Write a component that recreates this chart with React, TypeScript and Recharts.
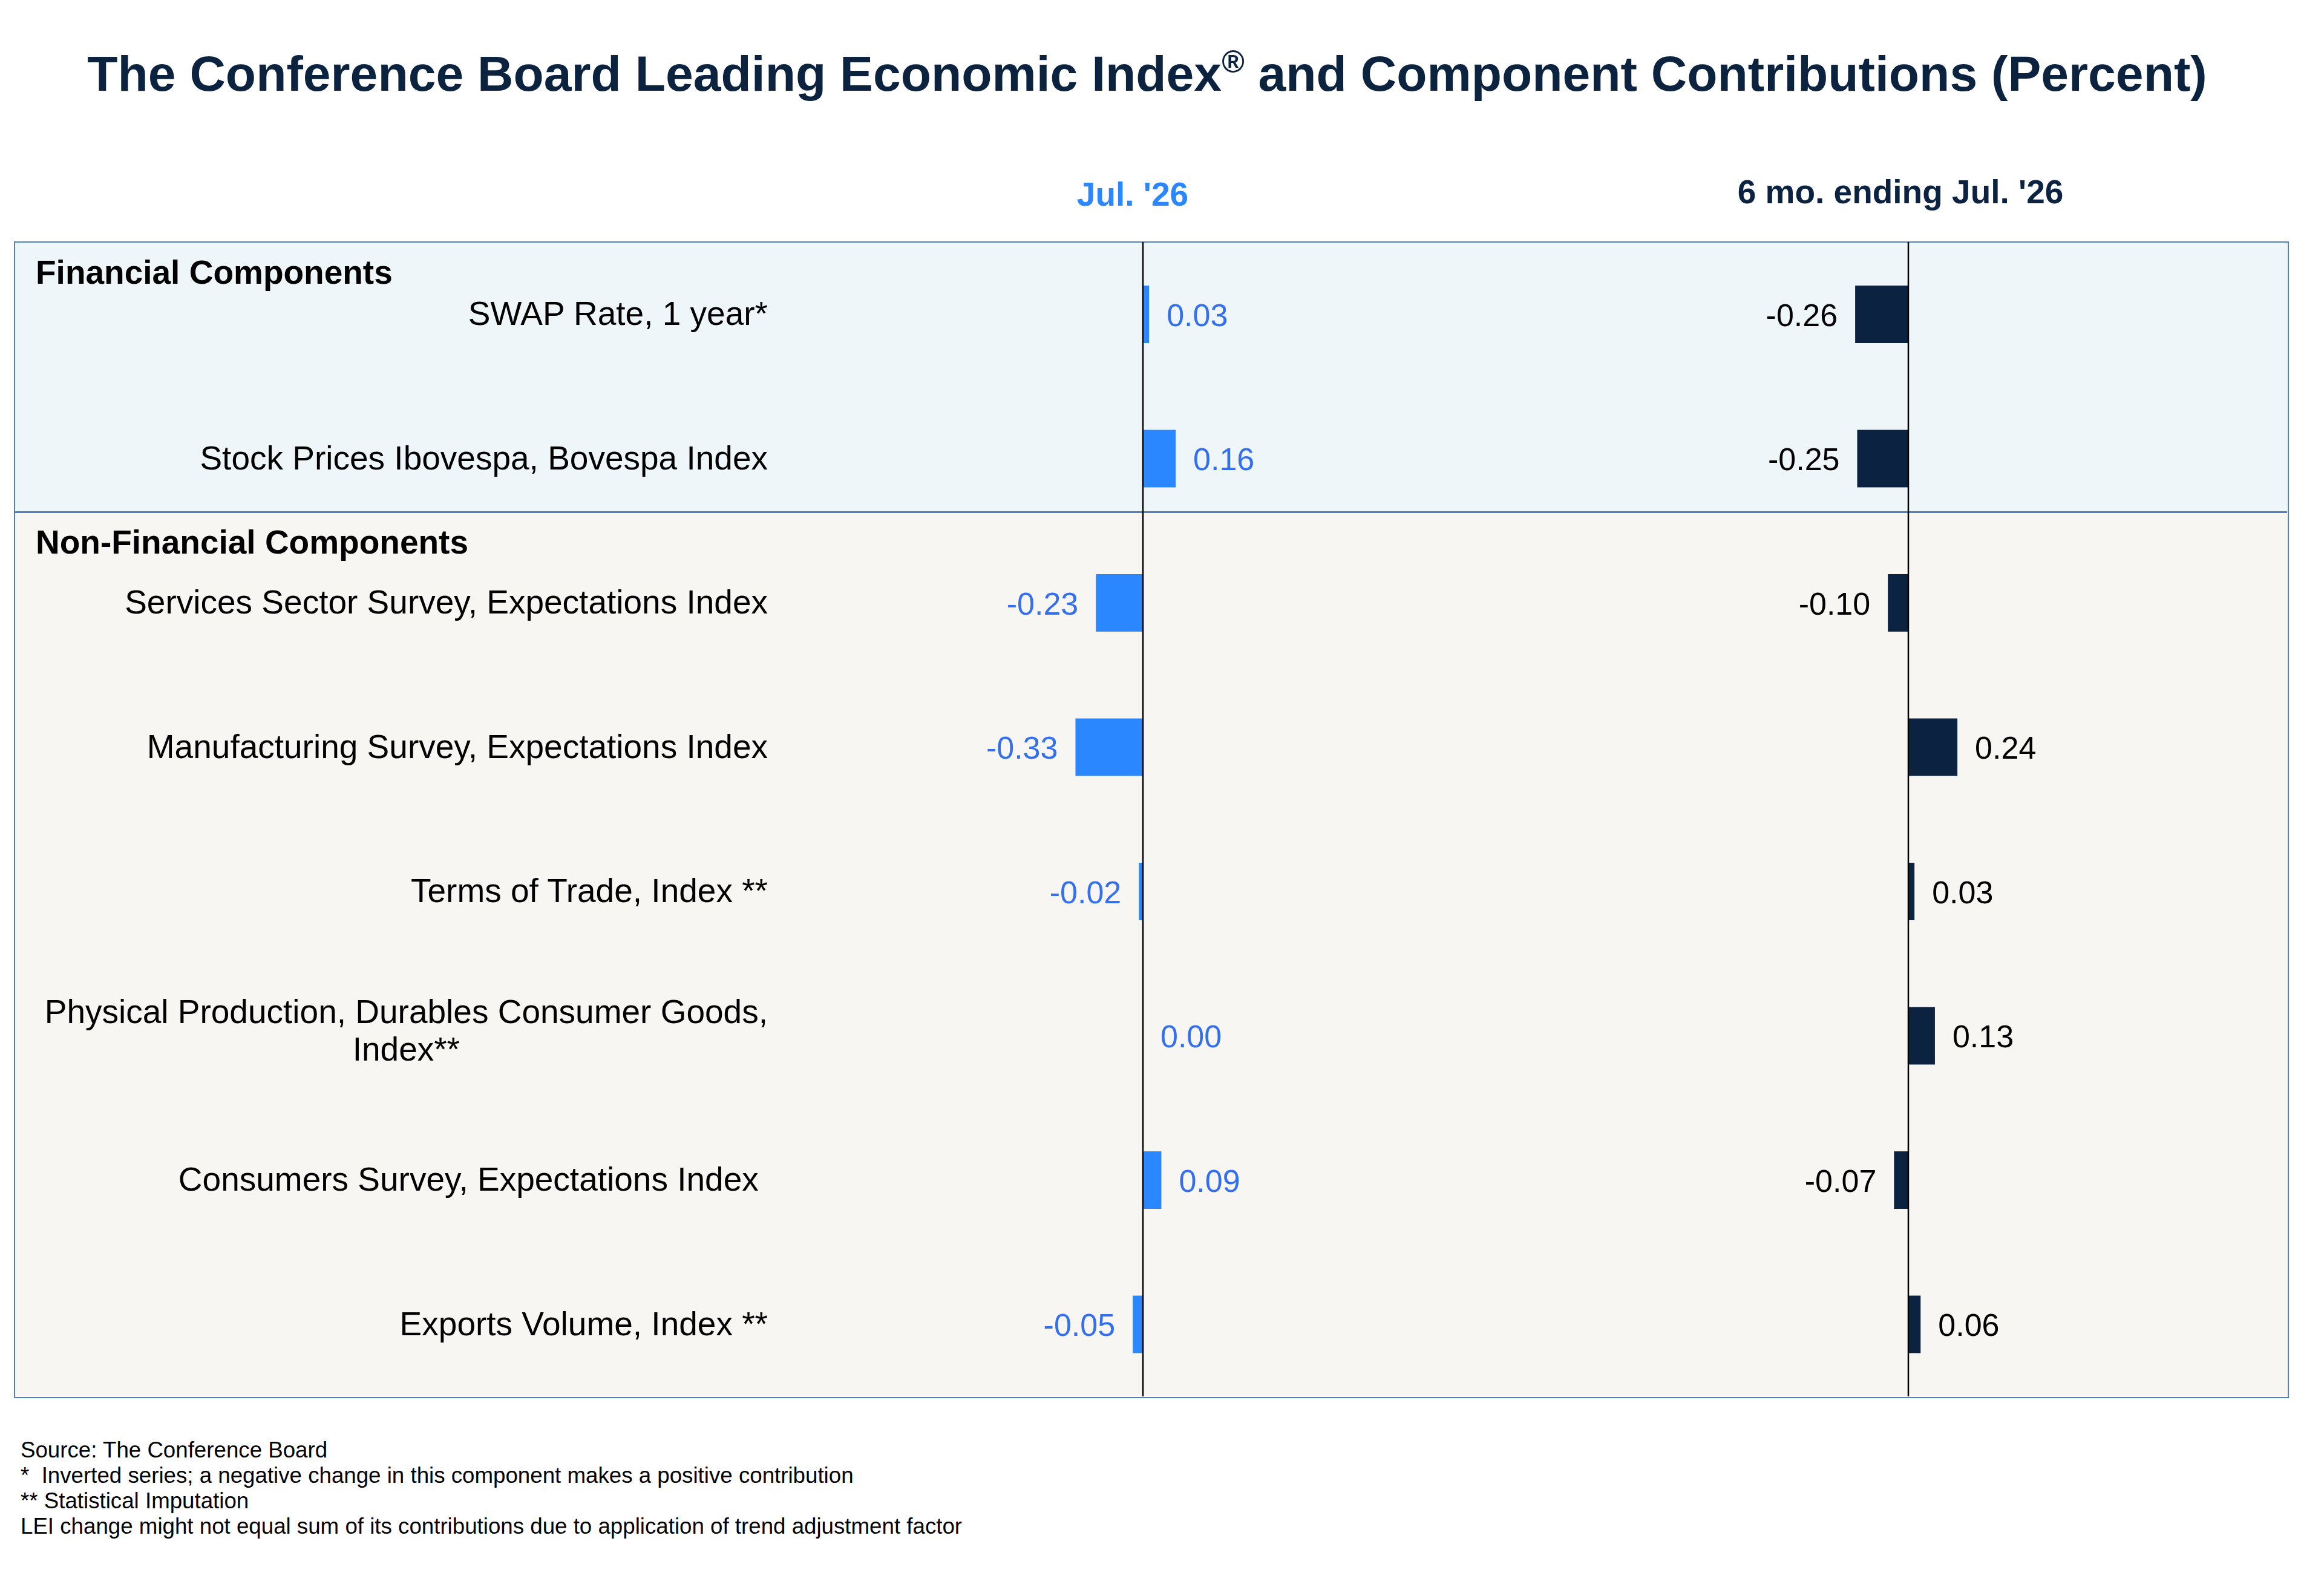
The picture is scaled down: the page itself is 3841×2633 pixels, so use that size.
import React from 'react'
import { BarChart, Bar, XAxis, YAxis, LabelList, ReferenceLine } from 'recharts'

// component names, top to bottom
const components = [
  'SWAP Rate, 1 year*',
  'Stock Prices Ibovespa, Bovespa Index',
  'Services Sector Survey, Expectations Index',
  'Manufacturing Survey, Expectations Index',
  'Terms of Trade, Index **',
  'Physical Production, Durables Consumer Goods,\nIndex**',
  'Consumers Survey, Expectations Index ',
  'Exports Volume, Index **',
]
// contribution in Jul. '26
const julValues = [0.03, 0.16, -0.23, -0.33, -0.02, 0.0, 0.09, -0.05]
// contribution over the 6 months ending Jul. '26
const sixMonthValues = [-0.26, -0.25, -0.1, 0.24, 0.03, 0.13, -0.07, 0.06]

const sections = ['Financial Components', 'Non-Financial Components']
const periodHeaders = ["Jul. '26", "6 mo. ending Jul. '26"]
const footnotes = [
  'Source: The Conference Board',
  '*  Inverted series; a negative change in this component makes a positive contribution',
  '** Statistical Imputation',
  'LEI change might not equal sum of its contributions due to application of trend adjustment factor',
]

const rows = components.map((name, i) => ({ name, jul: julValues[i], six: sixMonthValues[i] }))

const W = 3841
const H = 2633
const FONT = '"Liberation Sans", Arial, Helvetica, sans-serif'
const BLUE = '#2B87FF'
const BLUE_TEXT = '#3470EE'
const NAVY = '#0B2341'
const BORDER = '#4F81BD'

// layout
const BOX_L = 24
const BOX_R = 3780
const BOX_T = 400
const BOX_B = 2308
const DIVIDER = 846
const LABEL_R = 1269
const PLOT_L = 1284
const ZERO_A = 1889
const ZERO_B = 3154
const PX_PER_UNIT = 338

const domainA = [(PLOT_L - ZERO_A) / PX_PER_UNIT, (BOX_R - ZERO_A) / PX_PER_UNIT]
const domainB = [(PLOT_L - ZERO_B) / PX_PER_UNIT, (BOX_R - ZERO_B) / PX_PER_UNIT]

let measureCtx: CanvasRenderingContext2D | null = null
function textWidth(s: string, size: number) {
  if (!measureCtx) measureCtx = document.createElement('canvas').getContext('2d')
  if (!measureCtx) return s.length * size * 0.5
  measureCtx.font = `${size}px "Liberation Sans"`
  return measureCtx.measureText(s).width
}

const LabelTick = ({ y, payload }: any) => {
  const lines = String(payload.value).split('\n')
  if (lines.length === 1) {
    return (
      <text x={LABEL_R} y={y + 18} textAnchor="end" fontSize={55} fontFamily={FONT} fill="#000" style={{ whiteSpace: 'pre' }}>
        {lines[0]}
      </text>
    )
  }
  const mid = LABEL_R - textWidth(lines[0], 55) / 2
  return (
    <g>
      <text x={mid} y={y - 21} textAnchor="middle" fontSize={55} fontFamily={FONT} fill="#000">{lines[0]}</text>
      <text x={mid} y={y + 41} textAnchor="middle" fontSize={55} fontFamily={FONT} fill="#000">{lines[1]}</text>
    </g>
  )
}

const valueLabel = (color: string) => (p: any) => {
  const v = Number(p.value)
  const x0 = Number(p.x)
  const w = Number(p.width) || 0
  const left = Math.min(x0, x0 + w)
  const right = Math.max(x0, x0 + w)
  const cy = Number(p.y) + Number(p.height) / 2
  return (
    <text
      x={v < 0 ? left - 29 : right + 29}
      y={cy + 19}
      textAnchor={v < 0 ? 'end' : 'start'}
      fontSize={52}
      fontFamily={FONT}
      fill={color}
    >
      {v.toFixed(2)}
    </text>
  )
}

export default function App() {
  return (
    <div style={{ position: 'absolute', left: 0, top: 0, width: W, height: H, background: '#fff', overflow: 'hidden' }}>
      {/* panel backgrounds and frame */}
      <div style={{ position: 'absolute', left: BOX_L, top: BOX_T, width: BOX_R - BOX_L, height: DIVIDER - BOX_T, background: '#EEF6F9' }} />
      <div style={{ position: 'absolute', left: BOX_L, top: DIVIDER, width: BOX_R - BOX_L, height: BOX_B - DIVIDER, background: '#F7F6F2' }} />
      <div style={{ position: 'absolute', left: BOX_L - 1, top: BOX_T - 1, width: BOX_R - BOX_L, height: BOX_B - BOX_T, border: `2.5px solid ${BORDER}` }} />
      <div style={{ position: 'absolute', left: BOX_L, top: DIVIDER - 1, width: BOX_R - BOX_L, height: 2.5, background: BORDER }} />

      <div style={{ position: 'absolute', left: 0, top: 0 }}>
        <BarChart
          width={W}
          height={H}
          data={rows}
          layout="vertical"
          margin={{ top: BOX_T, right: W - BOX_R, bottom: H - BOX_B, left: BOX_L }}
        >
          <XAxis xAxisId="a" type="number" domain={domainA} allowDataOverflow hide />
          <XAxis xAxisId="b" type="number" domain={domainB} allowDataOverflow hide />
          <YAxis
            yAxisId="l"
            type="category"
            dataKey="name"
            width={PLOT_L - BOX_L}
            axisLine={false}
            tickLine={false}
            tick={<LabelTick />}
            interval={0}
          />
          <YAxis yAxisId="r" type="category" dataKey="name" hide />
          <ReferenceLine x={0} xAxisId="a" yAxisId="l" stroke="#000" strokeWidth={2.5} />
          <ReferenceLine x={0} xAxisId="b" yAxisId="l" stroke="#000" strokeWidth={2.5} />
          <Bar dataKey="jul" xAxisId="a" yAxisId="l" fill={BLUE} barSize={95} minPointSize={0.01} isAnimationActive={false}>
            <LabelList dataKey="jul" content={valueLabel(BLUE_TEXT)} />
          </Bar>
          <Bar dataKey="six" xAxisId="b" yAxisId="r" fill={NAVY} barSize={95} minPointSize={0.01} isAnimationActive={false}>
            <LabelList dataKey="six" content={valueLabel('#000')} />
          </Bar>
        </BarChart>
      </div>

      <svg width={W} height={H} style={{ position: 'absolute', left: 0, top: 0, pointerEvents: 'none' }} fontFamily={FONT}>
        <text x={1896} y={150} textAnchor="middle" fontSize={82.3} fontWeight="bold" fill="#0C2340">
          <tspan>The Conference Board Leading Economic Index</tspan>
          <tspan fontSize={51} dy={-30}>®</tspan>
          <tspan dy={30}> and Component Contributions (Percent)</tspan>
        </text>
        <text x={1872} y={340} textAnchor="middle" fontSize={55} fontWeight="bold" fill={BLUE}>{periodHeaders[0]}</text>
        <text x={3141} y={336} textAnchor="middle" fontSize={55} fontWeight="bold" fill={NAVY}>{periodHeaders[1]}</text>
        <text x={59} y={469} fontSize={55} fontWeight="bold" fill="#000">{sections[0]}</text>
        <text x={59} y={915} fontSize={55} fontWeight="bold" fill="#000">{sections[1]}</text>
        {footnotes.map((f, i) => (
          <text key={i} x={34} y={2409 + i * 42} fontSize={36.7} fill="#000" style={{ whiteSpace: 'pre' }}>{f}</text>
        ))}
      </svg>
    </div>
  )
}
